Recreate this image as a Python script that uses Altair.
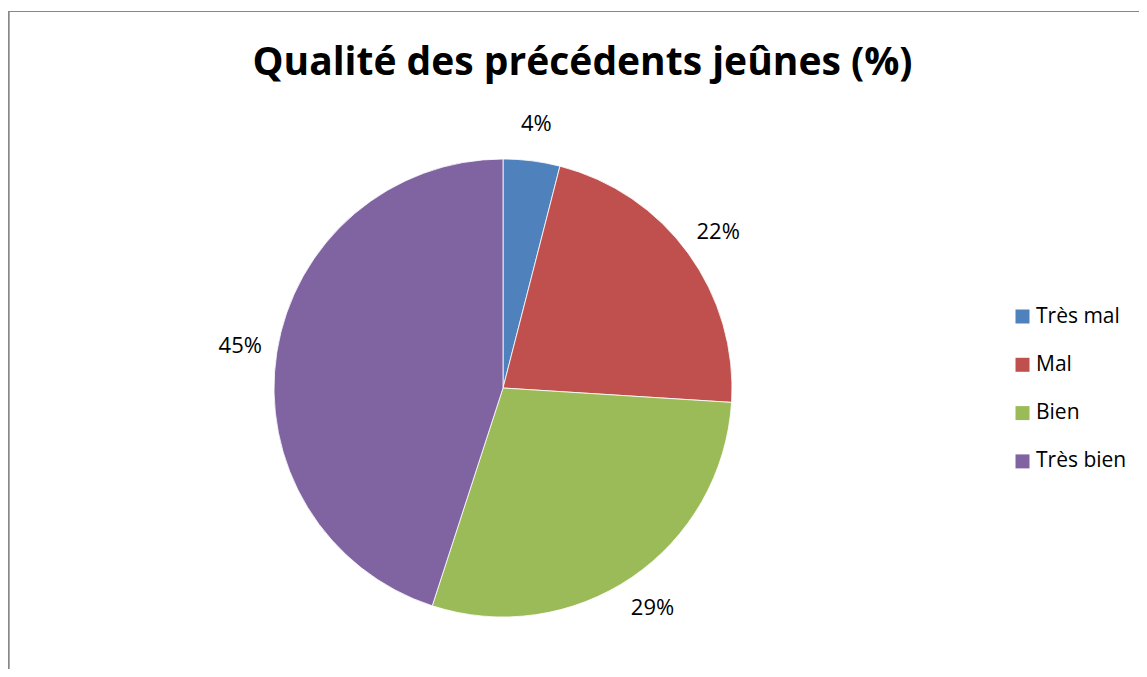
import altair as alt
import pandas as pd

categories = ["Très mal", "Mal", "Bien", "Très bien"]
values = [4, 22, 29, 45]
labels = ["4%", "22%", "29%", "45%"]
colors = ["#4F81BD", "#C0504D", "#9BBB59", "#8064A2"]

df = pd.DataFrame({
    "cat": categories,
    "val": values,
    "label": labels,
    "ord": list(range(len(categories))),
})

W, H = 1131, 561
CX, CY = 495, 280
FONT = "Open Sans"

base = alt.Chart(df).encode(
    theta=alt.Theta("val:Q", stack=True),
    order=alt.Order("ord:Q"),
)

pie = base.mark_arc(outerRadius=229, stroke="#ffffff", strokeWidth=0.8).encode(
    x=alt.value(CX), y=alt.value(CY),
    color=alt.Color(
        "cat:N",
        scale=alt.Scale(domain=categories, range=colors),
        sort=categories,
        legend=alt.Legend(
            title=None, orient="none", legendX=1004, legendY=198,
            symbolType="square", symbolSize=196, symbolStrokeWidth=0,
            labelFontSize=21, labelFont=FONT, labelColor="#000000",
            rowPadding=26.3, labelOffset=3,
        ),
    ),
)

text = base.mark_text(radius=266, fontSize=22, font=FONT, color="#000000").encode(
    x=alt.value(CX), y=alt.value(CY),
    text="label:N",
)

frame_top = alt.Chart(df).mark_rule(color="#888888", strokeWidth=1.2).encode(
    x=alt.value(0), x2=alt.value(1145), y=alt.value(-96.5)
)
frame_left = alt.Chart(df).mark_rule(color="#888888", strokeWidth=1.5).encode(
    x=alt.value(0.5), y=alt.value(-97), y2=alt.value(H + 20)
)

chart = alt.layer(frame_top, frame_left, pie, text).properties(
    width=W, height=H,
    padding={"left": 0, "top": 100, "right": 0, "bottom": 0},
    autosize=alt.AutoSizeParams(type="none"),
    title=alt.TitleParams(
        "Qualité des précédents jeûnes (%)",
        fontSize=39, font=FONT, fontWeight="bold", color="#000000",
        anchor="middle", frame="group", offset=14, dx=9, dy=118,
        baseline="alphabetic",
    ),
).configure_view(stroke=None)

chart.save("out.html", embed_options={"renderer": "svg", "actions": False})
